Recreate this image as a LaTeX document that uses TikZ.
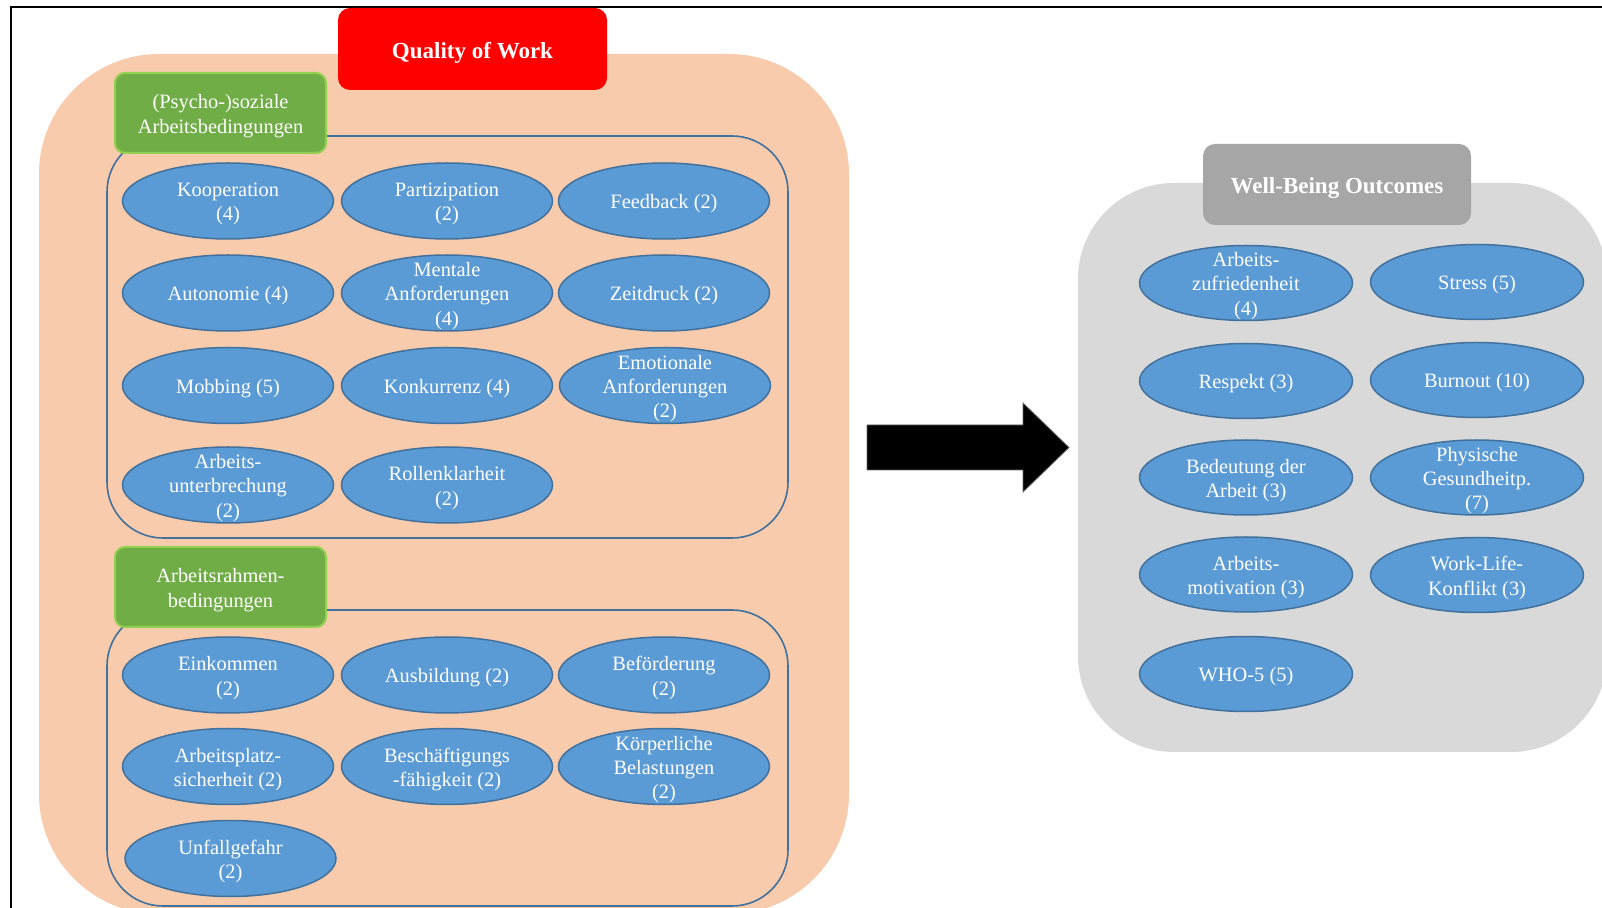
\documentclass[tikz,border=0pt]{standalone}
\usepackage{fontspec}
\setmainfont{Liberation Serif}
\usetikzlibrary{shapes.geometric}

\definecolor{orangebg}{HTML}{F8CBAD}
\definecolor{redhead}{HTML}{FF0000}
\definecolor{greenhead}{HTML}{70AD47}
\definecolor{greenline}{HTML}{92D050}
\definecolor{blobfill}{HTML}{5B9BD5}
\definecolor{blobline}{HTML}{41719C}
\definecolor{graybg}{HTML}{D9D9D9}
\definecolor{grayhead}{HTML}{A6A6A6}

\tikzset{
  bodyfont/.style={font=\fontsize{10.2}{12.2}\selectfont},
  headfont/.style={font=\bfseries\fontsize{11.5}{13.8}\selectfont},
  panel/.style={rectangle, inner sep=0pt, outer sep=0pt},
  headbox/.style={panel, rounded corners=6pt},
  headtext/.style={text=white, headfont, align=center, inner sep=0pt, yshift=-2pt},
  groupbox/.style={panel, rounded corners=5pt, fill=greenhead, draw=greenline,
    line width=1pt, minimum width=105.5pt, minimum height=40pt},
  framebox/.style={panel, rounded corners=28pt, draw=blobline, line width=0.8pt,
    minimum width=340.5pt},
  blob/.style={ellipse, draw=blobline, line width=0.75pt, fill=blobfill,
    inner sep=0pt, minimum width=105.5pt, minimum height=38pt},
  wideblob/.style={blob, minimum width=106.5pt, minimum height=37.5pt},
  blobtext/.style={text=white, align=center, bodyfont, inner sep=0pt, yshift=-1.5pt},
}

% an ellipse with its caption laid over it
\newcommand\blob[5][blob]{%
  \node[#1] (#2) at (#3,#4) {};
  \node[blobtext] (#2-t) at (#2) {#5};}

\begin{document}
\begin{tikzpicture}[x=0.5pt, y=-0.5pt]
\useasboundingbox (0,0) rectangle (1602,908);
\clip (0,0) rectangle (1602,908);

% outer frame
\draw[line width=1pt] (11,7) rectangle (1700,1000);

% ---------- Quality of Work ----------
\node[panel, rounded corners=60pt, fill=orangebg,
  minimum width=405pt, minimum height=430pt] (qow) at (444,484) {};
\node[headbox, fill=redhead, minimum width=134.5pt, minimum height=41pt]
  (qowhead) at (472.5,49) {};
\node[headtext] (qowhead-t) at (qowhead) {Quality of Work};

\node[framebox, minimum height=201pt] (psyframe) at (447.5,337) {};
\node[framebox, minimum height=148pt] (rahmenframe) at (447.5,758) {};

\node[groupbox] (psyhead) at (220.5,113) {};
\node[blobtext] (psyhead-t) at (psyhead) {(Psycho-)soziale\\Arbeitsbedingungen};
\node[groupbox] (rahmenhead) at (220.5,587) {};
\node[blobtext] (rahmenhead-t) at (rahmenhead) {Arbeitsrahmen-\\bedingungen};

% psycho-social conditions
\blob{koop}{228}{201}{Kooperation\\(4)}
\blob{parti}{447}{201}{Partizipation\\(2)}
\blob{feed}{664}{201}{Feedback (2)}
\blob{auto}{228}{293}{Autonomie (4)}
\blob{ment}{447}{293}{Mentale\\Anforderungen\\(4)}
\blob{zeit}{664}{293}{Zeitdruck (2)}
\blob{mobb}{228}{385.5}{Mobbing (5)}
\blob{konk}{447}{385.5}{Konkurrenz (4)}
\blob{emot}{665}{385.5}{Emotionale\\Anforderungen\\(2)}
\blob{unterb}{228}{485}{Arbeits-\\unterbrechung\\(2)}
\blob{rolle}{447}{485}{Rollenklarheit\\(2)}

% framework conditions
\blob{eink}{228}{675}{Einkommen\\(2)}
\blob{ausb}{447}{675}{Ausbildung (2)}
\blob{befoe}{664}{675}{Beförderung\\(2)}
\blob{sicher}{228}{766.5}{Arbeitsplatz-\\sicherheit (2)}
\blob{beschaef}{447}{766.5}{Beschäftigungs\\-fähigkeit (2)}
\blob{koerp}{664}{766.5}{Körperliche\\Belastungen\\(2)}
\blob{unfall}{230.5}{858.5}{Unfallgefahr\\(2)}

% ---------- arrow ----------
\coordinate (arrowtail) at (867,447.5);
\coordinate (arrowtip) at (1069,447.5);
\fill[black, draw=black!60, line width=0.4pt]
  (arrowtail) ++(0,-22.5) -- (1023,425) -- (1023,403) -- (arrowtip)
  -- (1023,492) -- (1023,470) -- (867,470) -- cycle;

% ---------- Well-Being Outcomes ----------
\node[panel, rounded corners=48pt, fill=graybg,
  minimum width=264.5pt, minimum height=284.5pt] (wbo) at (1342.5,467.5) {};
\node[headbox, fill=grayhead, minimum width=134pt, minimum height=40.5pt]
  (wbohead) at (1337,184.5) {};
\node[headtext] (wbohead-t) at (wbohead) {Well-Being Outcomes};

\blob[wideblob]{zufr}{1246}{283}{Arbeits-\\zufriedenheit\\(4)}
\blob[wideblob]{stress}{1477}{282}{Stress (5)}
\blob[wideblob]{resp}{1246}{381}{Respekt (3)}
\blob[wideblob]{burn}{1477}{380}{Burnout (10)}
\blob[wideblob]{bedeut}{1246}{477.5}{Bedeutung der\\Arbeit (3)}
\blob[wideblob]{phys}{1477}{477.5}{Physische\\Gesundheitp.\\(7)}
\blob[wideblob]{motiv}{1246}{574.5}{Arbeits-\\motivation (3)}
\blob[wideblob]{wlk}{1477}{575}{Work-Life-\\Konflikt (3)}
\blob[wideblob]{who}{1246}{674}{WHO-5 (5)}
\end{tikzpicture}
\end{document}
